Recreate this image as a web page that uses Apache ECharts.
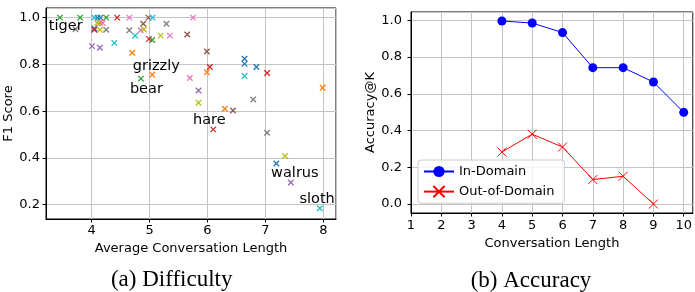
<!DOCTYPE html>
<html>
<head>
<meta charset="utf-8">
<script src="https://cdn.jsdelivr.net/npm/echarts@6/dist/echarts.min.js"></script>
<style>
html, body { margin: 0; padding: 0; background: #fff; }
#chart { width: 695px; height: 292px; }
</style>
</head>
<body>
<div id="chart"></div>
<script>
// (a) Difficulty: one [avgLength, f1] pair per animal, grouped by marker colour
var bluePts   = [[4.10, 1.0], [4.15, 1.0], [4.045, 0.954], [6.64, 0.824], [6.64, 0.802], [6.845, 0.789], [7.19, 0.376]];
var orangePts = [[4.14, 0.977], [4.70, 0.85], [5.045, 0.756], [5.99, 0.766], [6.30, 0.61], [7.99, 0.70]];
var greenPts  = [[3.45, 1.0], [3.80, 1.0], [4.25, 1.0], [5.045, 0.904], [4.85, 0.739]];
var redPts    = [[4.44, 1.0], [4.045, 0.948], [4.99, 0.909], [6.04, 0.789], [7.03, 0.763], [6.10, 0.522]];
var purplePts = [[4.005, 0.878], [4.14, 0.871], [5.845, 0.688], [7.44, 0.295]];
var brownPts  = [[4.98, 1.0], [4.89, 0.974], [5.65, 0.928], [5.99, 0.855], [6.44, 0.603]];
var pinkPts   = [[4.19, 0.977], [4.65, 1.0], [4.845, 0.946], [5.35, 0.923], [5.75, 1.0], [5.695, 0.742]];
var grayPts   = [[3.72, 0.95], [4.25, 0.948], [4.65, 0.946], [5.29, 0.974], [6.79, 0.65], [7.03, 0.508]];
var olivePts  = [[4.095, 0.977], [4.14, 0.948], [4.90, 0.949], [5.19, 0.923], [5.845, 0.636], [7.34, 0.408]];
var cyanPts   = [[4.045, 1.0], [5.05, 1.0], [4.39, 0.892], [4.75, 0.923], [6.64, 0.751], [7.94, 0.185]];

// annotated animals (text anchored at its left edge)
var animalNames = ['tiger', 'grizzly', 'bear', 'hare', 'walrus', 'sloth'];
var animalX = [3.26, 4.71, 4.66, 5.75, 7.10, 7.59];
var animalY = [0.962, 0.792, 0.695, 0.563, 0.333, 0.222];

// (b) Accuracy
var convLength = [4, 5, 6, 7, 8, 9, 10];
var inDomain = [0.996, 0.985, 0.933, 0.742, 0.742, 0.664, 0.499];
var outDomain = [0.283, 0.38, 0.31, 0.133, 0.151, 0.0];

var crossPath = 'path://M0,0L10,10M10,0L0,10';
var font = 'DejaVu Sans';
var tab10 = ['#1f77b4', '#ff7f0e', '#2ca02c', '#d62728', '#9467bd', '#8c564b', '#e377c2', '#7f7f7f', '#bcbd22', '#17becf'];
var groups = [bluePts, orangePts, greenPts, redPts, purplePts, brownPts, pinkPts, grayPts, olivePts, cyanPts];

function axisBase(idx) {
    return {
        gridIndex: idx,
        type: 'value',
        axisLine: { show: true, onZero: false, lineStyle: { color: '#000', width: 1 } },
        axisTick: { show: true, inside: false, length: 3.5, lineStyle: { color: '#000' } },
        splitLine: { show: true, lineStyle: { color: '#c4c4c4', width: 1 } },
        nameLocation: 'middle',
        nameTextStyle: { fontFamily: font, fontSize: 13, color: '#000' }
    };
}

var dom = document.getElementById('chart');
var myChart = echarts.init(dom, null, { renderer: 'canvas' });

var series = groups.map(function (pts, i) {
    return {
        type: 'scatter',
        xAxisIndex: 0,
        yAxisIndex: 0,
        symbol: crossPath,
        symbolSize: 5.5,
        itemStyle: { color: tab10[i], borderColor: tab10[i], borderWidth: 1.3, opacity: 1 },
        data: pts
    };
});

series.push({
    type: 'scatter',
    xAxisIndex: 0,
    yAxisIndex: 0,
    symbolSize: 0.1,
    z: 5,
    itemStyle: { color: '#000', opacity: 1 },
    label: {
        show: true,
        position: [0, 0],
        align: 'left',
        verticalAlign: 'middle',
        fontFamily: font,
        fontSize: 14.5,
        color: '#000',
        textBorderWidth: 0,
        formatter: function (p) { return p.name; }
    },
    data: animalNames.map(function (n, i) { return { name: n, value: [animalX[i], animalY[i]] }; })
});

series.push({
    name: 'In-Domain',
    type: 'line',
    xAxisIndex: 1,
    yAxisIndex: 1,
    symbol: 'circle',
    symbolSize: 9,
    lineStyle: { color: '#0000ff', width: 1 },
    itemStyle: { color: '#0000ff' },
    data: convLength.map(function (x, i) { return [x, inDomain[i]]; })
});
series.push({
    name: 'Out-of-Domain',
    type: 'line',
    xAxisIndex: 1,
    yAxisIndex: 1,
    symbol: crossPath,
    symbolSize: 9,
    lineStyle: { color: '#ff0000', width: 1 },
    itemStyle: { color: '#ff0000', borderColor: '#ff0000', borderWidth: 1 },
    data: outDomain.map(function (y, i) { return [convLength[i], y]; })
});

var xA = axisBase(0);
xA.min = 3.21; xA.max = 8.22; xA.minInterval = 1; xA.maxInterval = 1;
xA.name = 'Average Conversation Length'; xA.nameGap = 19;
xA.axisLabel = { showMinLabel: false, showMaxLabel: false, margin: 5, fontFamily: font, fontSize: 13, color: '#000' };

var yA = axisBase(0);
yA.min = 0.139; yA.max = 1.041; yA.minInterval = 0.2; yA.maxInterval = 0.2;
yA.name = 'F1 Score'; yA.nameGap = 26;
yA.axisLabel = { showMinLabel: false, showMaxLabel: false, margin: 6, fontFamily: font, fontSize: 13, color: '#000',
    formatter: function (v) { return v.toFixed(1); } };

var xB = axisBase(1);
xB.min = 1; xB.max = 10.3; xB.interval = 1;
xB.name = 'Conversation Length'; xB.nameGap = 20;
xB.axisLabel = { showMaxLabel: false, margin: 6, fontFamily: font, fontSize: 13, color: '#000' };

var yB = axisBase(1);
yB.min = -0.049; yB.max = 1.045; yB.minInterval = 0.2; yB.maxInterval = 0.2;
yB.name = 'Accuracy@K'; yB.nameGap = 29;
yB.axisLabel = { showMinLabel: false, showMaxLabel: false, margin: 9, fontFamily: font, fontSize: 13, color: '#000',
    formatter: function (v) { return Math.abs(v).toFixed(1); } };

var option = {
    animation: false,
    backgroundColor: '#fff',
    grid: [
        { left: 46, top: 8, width: 290, height: 211, show: true, borderColor: '#000', borderWidth: 1, backgroundColor: 'transparent' },
        { left: 411, top: 12, width: 282, height: 201, show: true, borderColor: '#000', borderWidth: 1, backgroundColor: 'transparent' }
    ],
    xAxis: [xA, xB],
    yAxis: [yA, yB],
    legend: {
        orient: 'vertical',
        left: 418,
        top: 160,
        padding: [5, 10, 5, 5],
        itemGap: 7,
        itemWidth: 30,
        itemHeight: 14,
        backgroundColor: 'rgba(255,255,255,0.8)',
        borderColor: '#cccccc',
        borderWidth: 1,
        borderRadius: 3,
        textStyle: { fontFamily: font, fontSize: 13, color: '#000' },
        data: ['In-Domain', 'Out-of-Domain']
    },
    graphic: [
        { type: 'text', x: 171.7, y: 280, style: { text: '(a) Difficulty', font: '23px "Liberation Serif"', fill: '#000', textAlign: 'center', textVerticalAlign: 'middle' } },
        { type: 'text', x: 531, y: 281, style: { text: '(b) Accuracy', font: '23px "Liberation Serif"', fill: '#000', textAlign: 'center', textVerticalAlign: 'middle' } }
    ],
    series: series
};

myChart.setOption(option);
window.addEventListener('resize', myChart.resize);
</script>
</body>
</html>
